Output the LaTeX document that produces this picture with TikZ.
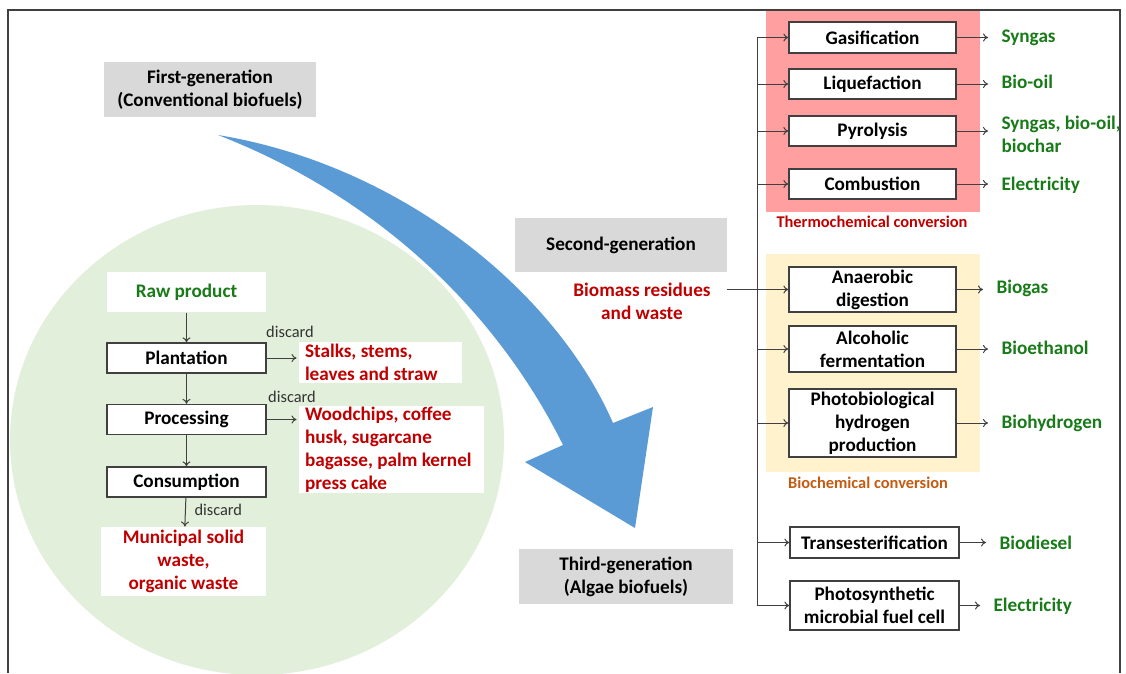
\documentclass[tikz,border=0pt]{standalone}
\usepackage{fontspec}
\setmainfont{Carlito}
\usetikzlibrary{shapes,positioning,arrows,arrows.meta,backgrounds}

\definecolor{boxgray}{RGB}{217,217,217}
\definecolor{leafgreen}{RGB}{226,239,218}
\definecolor{arrowblue}{RGB}{91,155,213}
\definecolor{thermopink}{RGB}{255,159,159}
\definecolor{biocream}{RGB}{255,242,204}
\definecolor{outgreen}{RGB}{24,122,24}
\definecolor{wastered}{RGB}{192,0,0}
\definecolor{biorange}{RGB}{197,90,17}
\definecolor{linegray}{RGB}{64,64,64}

\newcommand{\bigf}{\fontsize{19.2}{23}\selectfont}
\newcommand{\smallf}{\fontsize{16.4}{19}\selectfont}

\begin{document}
\begin{tikzpicture}[x=1pt,y=-1pt,line width=1pt,
  genbox/.style={fill=boxgray, font=\bfseries\bigf, align=center, inner sep=0pt, minimum width=212, minimum height=55},
  stepbox/.style={draw=linegray, line width=1.3pt, fill=white, font=\bfseries\bigf, inner sep=0pt, minimum width=159, minimum height=30},
  wastebox/.style={fill=white, text=wastered, font=\bfseries\bigf, inner sep=0pt},
  procbox/.style={draw=linegray, line width=1.3pt, fill=white, font=\bfseries\bigf, align=center, inner sep=0pt, minimum width=167},
  outtext/.style={anchor=west, text=outgreen, font=\bfseries\bigf, align=flush left, inner sep=0pt},
  conn/.style={draw=linegray, line width=1pt, -{To[length=5pt,width=8pt]}},
  discard/.style={font=\smallf, text=black!80, inner sep=0pt}]
\useasboundingbox (0,0) rectangle (1126,673);
% Background shapes
\fill[leafgreen] (257,440) ellipse [x radius=247, y radius=235];
\fill[thermopink] (766,10) rectangle (980,212);
\fill[biocream] (766,254) rectangle (980,472);
\draw[linegray, line width=1.5pt] (8,673) -- (8,10) -- (1120,10) -- (1120,673);
% Big blue arrow
\fill[arrowblue] (218,135) .. controls (400,165) and (555,290) .. (613,423) -- (653,407) -- (635,528) -- (525,462) -- (563,445) .. controls (500,318) and (385,200) .. (218,135) -- cycle;

% Generation labels
\node[genbox] (first) at (210,89.5) {First-generation\\(Conventional biofuels)};
\node[genbox, minimum height=54] (second) at (621,245) {Second-generation};
\node[genbox, minimum width=214] (third) at (626,576.5) {Third-generation\\(Algae biofuels)};
\node[wastebox, align=center, fill=none] (biomass) at (642,301) {Biomass residues\\and waste};

% First generation chain
\node[stepbox, draw=none, text=outgreen, minimum height=40] (raw) at (186.5,292) {Raw product};
\node[stepbox] (plant) at (186.5,358) {Plantation};
\node[stepbox] (process) at (186.5,419.5) {Processing};
\node[stepbox] (consume) at (186.5,482) {Consumption};
\node[wastebox, align=center, minimum width=165, minimum height=69] (municipal) at (183.5,561.5) {Municipal solid\\waste,\\organic waste};
\node[wastebox, align=flush left, text width=151, inner xsep=6pt, minimum height=41] (stalks) at (380.5,362.5) {Stalks, stems,\\leaves and straw};
\node[wastebox, align=flush left, text width=173, inner xsep=6pt, minimum height=87] (woodchips) at (391.5,449.5) {Woodchips, coffee\\husk, sugarcane\\bagasse, palm kernel\\press cake};
\node[discard] (dis1) at (290,332) {discard};
\node[discard] (dis2) at (292,397) {discard};
\node[discard, anchor=west] (dis3) at (194,510) {discard};

\draw[conn] (raw) -- (plant);
\draw[conn] (plant) -- (process);
\draw[conn] (process) -- (consume);
\draw[conn] (consume) -- (municipal);
\draw[conn, shorten >=2pt] (plant.east) -- (plant.east -| stalks.west);
\draw[conn, shorten >=2pt] (process.east) -- (process.east -| woodchips.west);

% Conversion routes
\node[procbox, minimum height=31] (gas) at (872.5,37.5) {Gasification};
\node[procbox, minimum height=30] (liq) at (872.5,84) {Liquefaction};
\node[procbox, minimum height=30] (pyro) at (872.5,131) {Pyrolysis};
\node[procbox, minimum height=30] (comb) at (872.5,184) {Combustion};
\node[procbox, minimum height=45] (anaer) at (872.5,289.5) {Anaerobic\\digestion};
\node[procbox, minimum height=46] (alco) at (872.5,349) {Alcoholic\\fermentation};
\node[procbox, minimum height=68] (photobio) at (872.5,423) {Photobiological\\hydrogen\\production};
\node[procbox, minimum width=169, minimum height=31] (trans) at (874.5,542.5) {Transesterification};
\node[procbox, minimum width=169, minimum height=49] (pmfc) at (874.5,605.5) {Photosynthetic\\microbial fuel cell};

\node[font=\bfseries\smallf, text=wastered, inner sep=0pt] (thermo) at (872,222) {Thermochemical conversion};
\node[font=\bfseries\smallf, text=biorange, inner sep=0pt] (biochem) at (868,483) {Biochemical conversion};

% Products
\node[outtext] (syngas) at (1001,38) {Syngas};
\node[outtext] (biooil) at (1001,82) {Bio-oil};
\node[outtext] (mixed) at (1001,134.5) {Syngas, bio-oil,\\biochar};
\node[outtext] (elec1) at (1001,185) {Electricity};
\node[outtext] (biogas) at (996,288) {Biogas};
\node[outtext] (bioeth) at (1001,348) {Bioethanol};
\node[outtext] (bioh) at (1001,423) {Biohydrogen};
\node[outtext] (biodiesel) at (999,543) {Biodiesel};
\node[outtext] (elec2) at (993,606) {Electricity};

\foreach \a/\b in {gas/syngas,liq/biooil,pyro/mixed,comb/elec1,anaer/biogas,alco/bioeth,photobio/bioh,trans/biodiesel,pmfc/elec2}
  \draw[conn, shorten >=13pt] (\a.east) -- (\a.east -| \b.west);

% Trunk line
\coordinate (trunk) at (757,0);
\draw[linegray, line width=1pt] (trunk |- gas.west) -- (trunk |- pmfc.west);
\foreach \a in {gas,liq,pyro,comb,alco,photobio,trans,pmfc}
  \draw[conn] (trunk |- \a.west) -- (\a.west);
\draw[conn, shorten <=16pt] (biomass.east |- anaer.west) -- (anaer.west);
\end{tikzpicture}
\end{document}
